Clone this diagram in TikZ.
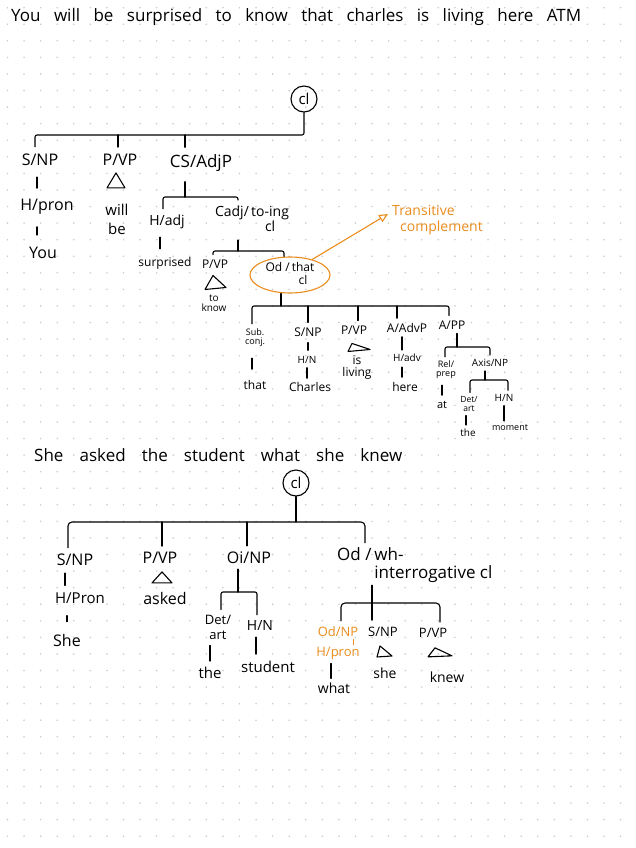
\documentclass[tikz,border=0pt]{standalone}
\usepackage{fontspec}
\setmainfont{Open Sans}
\usetikzlibrary{shapes.geometric, arrows.meta}
\definecolor{orange1}{RGB}{234, 140, 30}
\definecolor{dotgray}{RGB}{205, 205, 205}

\begin{document}
\begin{tikzpicture}[x=1pt, y=-1pt,
    lab/.style={inner sep=1pt, align=center, font=\fontsize{#1}{#1}\selectfont},
    lab/.default=15,
    br/.style={line width=1.1pt, line cap=round, line join=round, rounded corners=2pt},
    tk/.style={line width=1.1pt, line cap=round, shorten <=#1, shorten >=#1},
    tk/.default=4pt,
    tri/.style={line width=1.1pt, line join=round},
    rootc/.style={draw, circle, line width=1.1pt, minimum size=26pt, inner sep=0pt, font=\fontsize{15}{15}\selectfont}]

  % paper and dot grid
  \fill[white] (0,0) rectangle (636,848);
  \useasboundingbox (0,0) rectangle (636,848);
  \foreach \i in {0,...,37}
    \foreach \j in {0,...,50}
      \fill[dotgray] (7.5+16.57*\i, 7.7+16.57*\j) circle (0.9pt);

  % first sentence
  \node[lab=17, anchor=west] (title1) at (10,17) {\makebox[570pt][s]{You will be surprised to know that charles is living here ATM}};

  \node[rootc] (cl1) at (304,99) {cl};
  \node[lab=16] (snp1) at (40,160) {S/NP};
  \node[lab=16] (pvp1) at (120,160) {P/VP};
  \node[lab=17] (cs1) at (201,163) {CS/AdjP};
  \coordinate (b1) at (0,135);
  \draw[br, shorten >=6pt] (cl1.south) |- ([xshift=-5pt]snp1.north |- b1) -- ([xshift=-5pt]snp1.north);
  \draw[br] ([xshift=-2pt]pvp1.north |- b1) -- ([xshift=-2pt,yshift=6pt]pvp1.north);
  \draw[br] ([xshift=-16pt]cs1.north |- b1) -- ([xshift=-16pt,yshift=6pt]cs1.north);

  \node[lab=16] (hpron1) at (47,207) {H/pron};
  \node[lab=16] (you) at (43,253) {You};
  \draw[tk=10pt] ([xshift=-3pt]snp1.south) -- ([xshift=-3pt]snp1.south |- hpron1.north);
  \draw[tk=11pt] ([xshift=-10pt]hpron1.south) -- ([xshift=-10pt]hpron1.south |- you.north);

  \draw[tri] ([xshift=-4pt,yshift=-6pt]pvp1.south) -- ++(-9,15) -- ++(18,0) -- cycle;
  \node[lab=15] (willbe) at (117,219) {will\\[4pt]be};

  \node[lab=14] (hadj) at (167,222) {H/adj};
  \node[lab=14] (cadj) at (252,221) {Cadj/\,\begin{tabular}[t]{@{}c@{}}to-ing\\cl\end{tabular}};
  \coordinate (b2) at (0,197);
  \draw[br, shorten <=9pt] ([xshift=-16pt]cs1.south) -- ([xshift=-16pt]cs1.south |- b2);
  \draw[br] ([xshift=-4pt,yshift=5pt]hadj.north) |- ([xshift=-14pt]cadj.north |- b2) -- ([xshift=-14pt,yshift=5pt]cadj.north);

  \node[lab=12] (surp) at (165,263) {surprised};
  \draw[tk=7pt] ([xshift=-7pt]hadj.south) -- ([xshift=-7pt]hadj.south |- surp.north);

  \node[lab=12] (pvp2) at (215,264) {P/VP};
  \node[lab=10] (toknow) at (214,303) {to\\know};
  \node[lab=12, draw=orange1, ellipse, line width=1.1pt, minimum width=80pt, minimum height=36pt, inner sep=0pt] (od1) at (290,275) {Od /\,\begin{tabular}[t]{@{}c@{}}that\\cl\end{tabular}};
  \coordinate (b3) at (0,251);
  \draw[br, shorten <=3pt] ([xshift=-14pt]cadj.south) -- ([xshift=-14pt]cadj.south |- b3);
  \draw[br] ([xshift=-2pt,yshift=4pt]pvp2.north) |- ([xshift=-6pt]od1.north |- b3) -- ([xshift=-6pt]od1.north);
  \draw[tri] ([xshift=-2pt,yshift=-6pt]pvp2.south) -- ++(-8,14) -- ++(21,-2) -- cycle;

  \node[lab=14, text=orange1, align=left, anchor=west] (note) at (391,220) {Transitive\\[2pt]\hspace*{8pt}complement};
  \coordinate (tip) at (388,214);
  \draw[orange1, line width=1.1pt, -{Triangle[open, length=9pt, width=8pt]}] (od1.35) -- (tip);

  \coordinate (b4) at (0,306);
  \draw[br] ([xshift=-9pt]od1.south) -- ([xshift=-9pt]od1.south |- b4);
  \node[lab=9] (sub) at (255,338) {Sub.\\conj.};
  \node[lab=12] (snp2) at (308,332) {S/NP};
  \node[lab=12] (pvp3) at (354,330) {P/VP};
  \node[lab=12] (aadv) at (407,328) {A/AdvP};
  \node[lab=12] (app) at (452,325) {A/PP};
  \draw[br] ([xshift=-3pt,yshift=4pt]sub.north) |- ([xshift=-3pt]app.north |- b4) -- ([xshift=-3pt,yshift=4pt]app.north);
  \draw[br] (snp2.north |- b4) -- ([yshift=4pt]snp2.north);
  \draw[br] ([xshift=4pt]pvp3.north |- b4) -- ([xshift=4pt,yshift=4pt]pvp3.north);
  \draw[br] ([xshift=-10pt]aadv.north |- b4) -- ([xshift=-10pt,yshift=4pt]aadv.north);

  \node[lab=12] (that) at (255,385) {that};
  \draw[tk=10pt] ([xshift=-3pt]sub.south) -- ([xshift=-3pt]sub.south |- that.north);
  \node[lab=10] (hn1) at (307,360) {H/N};
  \node[lab=12] (charles) at (310,387) {Charles};
  \draw[tk=5pt] (snp2.south) -- (snp2.south |- hn1.north);
  \draw[tk=3pt] (hn1.south) -- (hn1.south |- charles.north);
  \draw[tri] ([xshift=-2pt,yshift=-8pt]pvp3.south) -- ++(-4,8) -- ++(22,-2) -- cycle;
  \node[lab=12] (living) at (357,368) {is\\living};
  \node[lab=10] (hadv) at (407,358) {H/adv};
  \node[lab=12] (here) at (405,387) {here};
  \draw[tk=3pt] ([xshift=-5pt]aadv.south) -- ([xshift=-5pt]aadv.south |- hadv.north);
  \draw[tk=4pt] ([xshift=-5pt]hadv.south) -- ([xshift=-5pt]hadv.south |- here.north);

  \coordinate (b5) at (0,347);
  \draw[br, shorten <=3pt] ([xshift=5pt]app.south) -- ([xshift=5pt]app.south |- b5);
  \node[lab=9] (rel) at (446,370) {Rel/\\prep};
  \node[lab=10] (axis) at (490,363) {Axis/NP};
  \draw[br] ([xshift=-1pt,yshift=3pt]rel.north) |- (axis.north |- b5) -- ([yshift=3pt]axis.north);
  \node[lab=11] (atw) at (442,405) {at};
  \draw[tk=5pt] ([xshift=-4pt]rel.south) -- ([xshift=-4pt]rel.south |- atw.north);
  \coordinate (b6) at (0,380);
  \draw[br, shorten <=3pt] ([xshift=-5pt]axis.south) -- ([xshift=-5pt]axis.south |- b6);
  \node[lab=8.5] (det1) at (469,404) {Det/\\art};
  \node[lab=10] (hn2) at (504,398) {H/N};
  \draw[br] ([xshift=1pt,yshift=3pt]det1.north) |- ([xshift=4pt]hn2.north |- b6) -- ([xshift=4pt,yshift=3pt]hn2.north);
  \node[lab=10] (the1) at (468,433) {the};
  \node[lab=9] (moment) at (510,428) {moment};
  \draw[tk=3pt] ([xshift=-3pt]det1.south) -- ([xshift=-3pt]det1.south |- the1.north);
  \draw[tk=3pt] (hn2.south) -- (hn2.south |- moment.north);

  % second sentence
  \node[lab=17, anchor=west] (title2) at (33,455) {\makebox[368pt][s]{She asked the student what she knew}};
  \node[rootc] (cl2) at (296,483) {cl};
  \node[lab=16] (snp3) at (75,560) {S/NP};
  \node[lab=16] (pvp4) at (160,558) {P/VP};
  \node[lab=16] (oinp) at (249,558) {Oi/NP};
  \node[lab=17, anchor=west] (od2) at (336,566) {Od /\,\begin{tabular}[t]{@{}l@{}}wh-\\interrogative cl\end{tabular}};
  \coordinate (b7) at (0,522);
  \draw[br] (cl2.south) -- (cl2.south |- b7);
  \draw[br, rounded corners=4pt] ([xshift=-7pt,yshift=5pt]snp3.north) |- ([xshift=29pt]od2.north west |- b7) -- ([xshift=29pt,yshift=4pt]od2.north west);
  \draw[br] ([xshift=2pt]pvp4.north |- b7) -- ([xshift=2pt,yshift=5pt]pvp4.north);
  \draw[br] ([xshift=-2pt]oinp.north |- b7) -- ([xshift=-2pt,yshift=5pt]oinp.north);

  \node[lab=15] (hpron2) at (80,598) {H/Pron};
  \node[lab=16] (she1) at (67,640) {She};
  \draw[tk=6pt] ([xshift=-10pt]snp3.south) -- ([xshift=-10pt]snp3.south |- hpron2.north);
  \draw[tk=11pt] ([xshift=-13pt]hpron2.south) -- ([xshift=-13pt]hpron2.south |- she1.north);
  \draw[tri] ([xshift=2pt,yshift=-7pt]pvp4.south) -- ++(-10,11) -- ++(20,0) -- cycle;
  \node[lab=16] (asked) at (165,598) {asked};

  \coordinate (b8) at (0,592);
  \draw[br, shorten <=4pt] ([xshift=-11pt]oinp.south) -- ([xshift=-11pt]oinp.south |- b8);
  \node[lab=13] (det2) at (218,627) {Det/\\[2pt]art};
  \node[lab=14] (hn3) at (260,625) {H/N};
  \draw[br] ([xshift=3pt,yshift=4pt]det2.north) |- ([xshift=-3pt]hn3.north |- b8) -- ([xshift=-3pt,yshift=4pt]hn3.north);
  \node[lab=15] (the2) at (210,673) {the};
  \node[lab=15] (student) at (268,667) {student};
  \draw[tk=5pt] ([xshift=-8pt]det2.south) -- ([xshift=-8pt]det2.south |- the2.north);
  \draw[tk=6pt] ([xshift=-4pt]hn3.south) -- ([xshift=-4pt]hn3.south |- student.north);

  \coordinate (b9) at (0,603);
  \node[lab=13, text=orange1] (odnp) at (338,632) {Od/NP};
  \node[lab=13] (snp4) at (383,632) {S/NP};
  \node[lab=13] (pvp5) at (433,633) {P/VP};
  \draw[br, shorten >=6pt] ([xshift=36pt]od2.south west) -- ([xshift=36pt]od2.south west |- snp4.north);
  \draw[br, rounded corners=4pt] ([xshift=3pt,yshift=5pt]odnp.north) |- ([xshift=7pt]pvp5.north |- b9) -- ([xshift=7pt,yshift=5pt]pvp5.north);
  \node[lab=13, text=orange1] (hpron3) at (338,653) {H/pron};
  \draw[orange1, line width=0.8pt, shorten <=1pt, shorten >=1pt] ([xshift=15pt]odnp.south) -- ([xshift=15pt]odnp.south |- hpron3.north);
  \node[lab=14] (what) at (334,688) {what};
  \draw[tk=3pt] ([xshift=-7pt]hpron3.south) -- ([xshift=-7pt]hpron3.south |- what.north);
  \draw[tri] ([xshift=-3pt,yshift=-8pt]snp4.south) -- ++(-3,11) -- ++(15,-1) -- cycle;
  \node[lab=14] (she2) at (385,673) {she};
  \draw[tri] ([xshift=2pt,yshift=-9pt]pvp5.south) -- ++(-7,9) -- ++(24,-1) -- cycle;
  \node[lab=14] (knew) at (447,677) {knew};
\end{tikzpicture}
\end{document}
